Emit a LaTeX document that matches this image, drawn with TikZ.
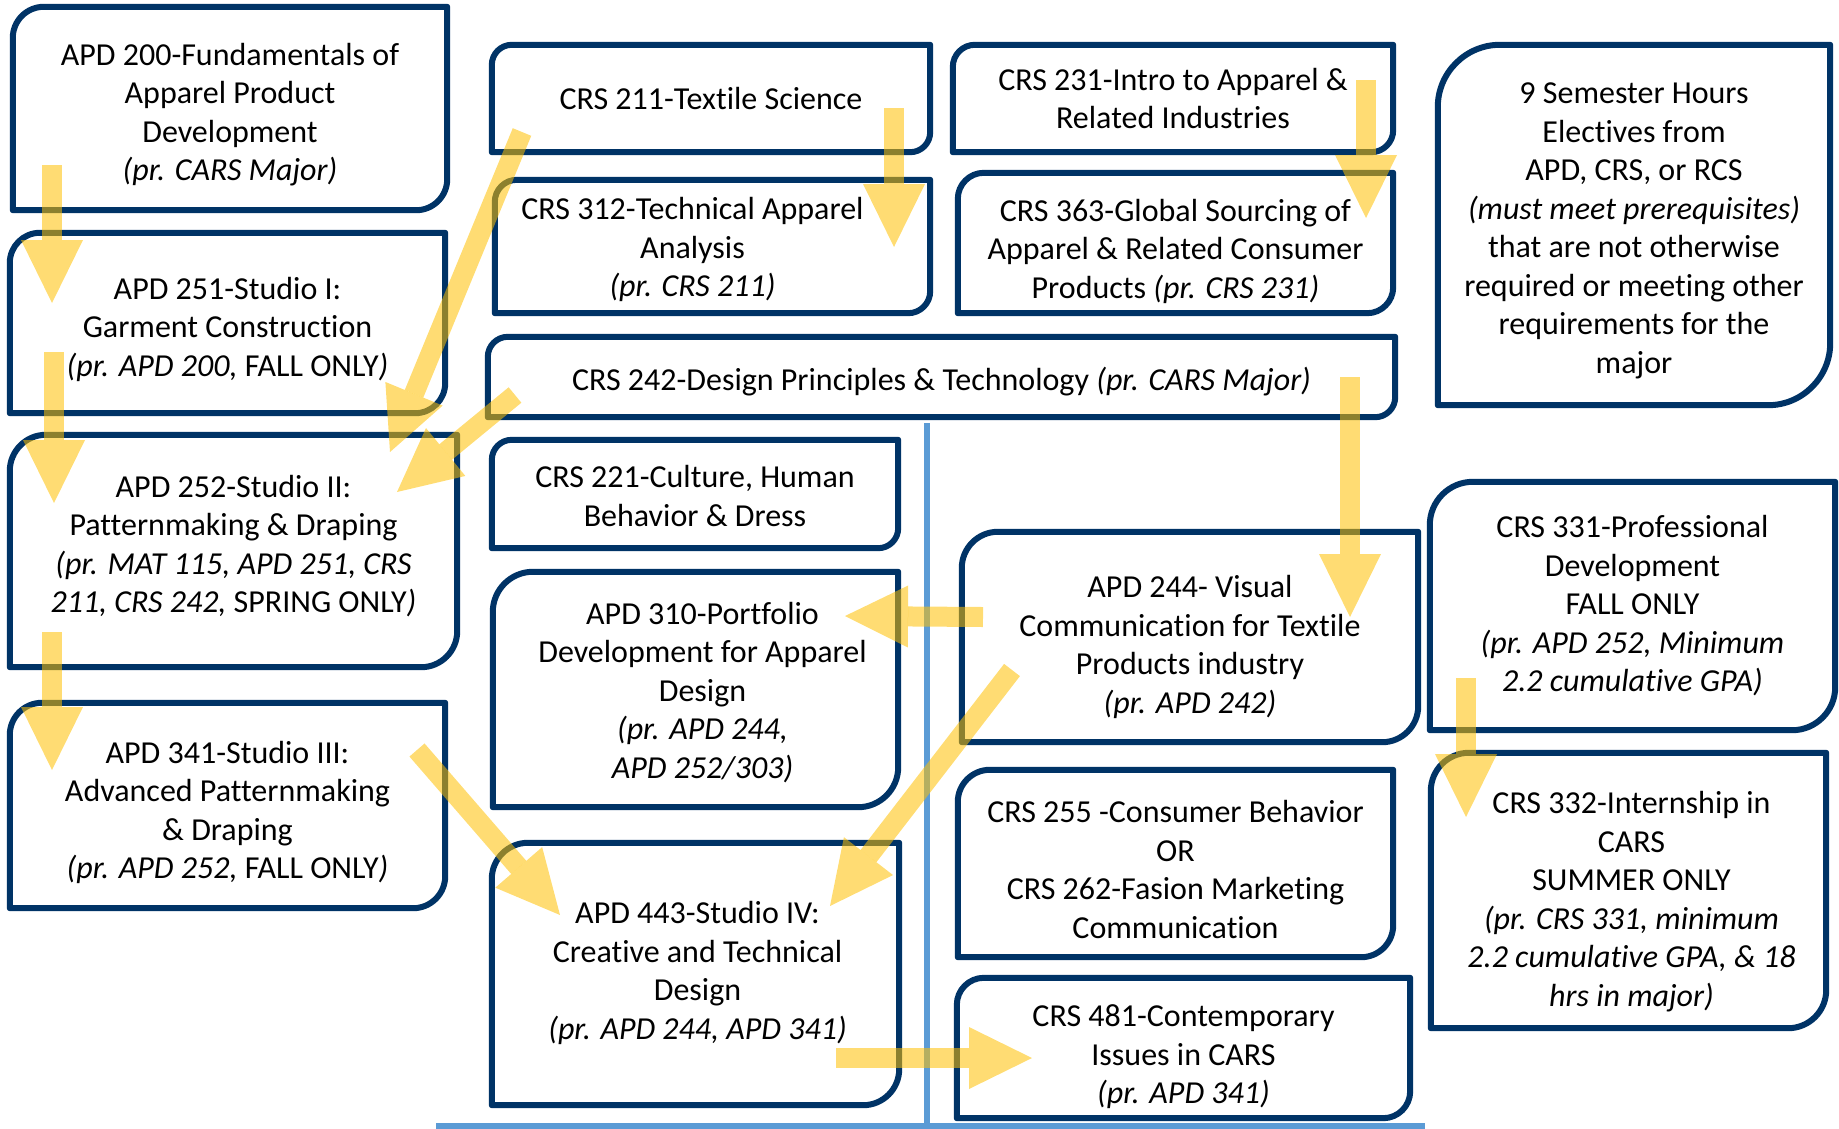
\documentclass[tikz,border=0pt]{standalone}
\usepackage{fontspec}
\setmainfont{Carlito}[Ligatures=NoCommon]
\usetikzlibrary{arrows.meta,calc}
\definecolor{boxblue}{RGB}{0,51,102}
\definecolor{flowgold}{RGB}{255,192,0}
\definecolor{splitblue}{RGB}{91,155,213}
\newcommand{\coursefont}{\fontsize{32}{38.5}\selectfont}
\tikzset{course/.style={align=center,inner sep=0pt,font=\coursefont},
  boxline/.style={draw=boxblue,line width=6pt,line join=round},
  flow/.style={draw=flowgold,opacity=0.55,line width=20pt,
    -{Triangle[width=62pt,length=63pt,line width=0pt]}},
  split/.style={draw=splitblue,line width=6pt}}
% frame with rounded top-left and bottom-right corners,
% #2 = radius, #3/#4 = offset of the frame against the text
\newcommand{\courseframe}[4]{%
  \coordinate (tl) at ($(#1.north west)+(#3,#4)$);
  \coordinate (br) at ($(#1.south east)+(#3,#4)$);
  \draw[boxline] ($(tl)+(#2,0pt)$) -- (tl -| br) -- ($(br)+(0pt,#2)$)
  .. controls ($(br)+(0pt,0.45*#2)$) and ($(br)+(-0.45*#2,0pt)$)
  .. ($(br)+(-#2,0pt)$) -- (br -| tl) -- ($(tl)+(0pt,-#2)$)
  .. controls ($(tl)+(0pt,-0.45*#2)$) and ($(tl)+(0.45*#2,0pt)$)
  .. ($(tl)+(#2,0pt)$) -- cycle;}

\begin{document}
\begin{tikzpicture}[x=1pt,y=-1pt]
  \useasboundingbox (0,0) rectangle (1839,1128);

  % divider lines
  \coordinate (splittop) at (927,423);
  \coordinate (splitbot) at (927,1126);
  \coordinate (baseleft) at (436,1126);
  \coordinate (baseright) at (1425,1126);
  \draw[split] (splittop) -- (splitbot);
  \draw[split] (baseleft) -- (baseright);

  % left column
  \node[course,minimum width=434pt,minimum height=203pt] (apd200) at (230,114.5)
  {APD 200-Fundamentals of\\Apparel Product\\Development\\\textit{(pr. CARS Major)}};
  \node[course,minimum width=435pt,minimum height=180pt] (apd251) at (227.5,329)
  {APD 251-Studio I:\\Garment Construction\\\textit{(pr. APD 200,} FALL ONLY\textit{)}};
  \node[course,minimum width=447pt,minimum height=232pt] (apd252) at (233.5,546)
  {APD 252-Studio II:\\Patternmaking \& Draping\\\textit{(pr. MAT 115, APD 251, CRS}\\
   \textit{211, CRS 242,} SPRING ONLY\textit{)}};
  \node[course,minimum width=435pt,minimum height=205pt] (apd341) at (227.5,812.5)
  {APD 341-Studio III:\\Advanced Patternmaking\\\& Draping\\\textit{(pr. APD 252,} FALL ONLY\textit{)}};

  % middle column
  \node[course,minimum width=438pt,minimum height=107pt] (crs211) at (711,98.5)
  {CRS 211-Textile Science};
  \node[course,minimum width=435pt,minimum height=133pt] (crs312) at (692.5,249.5)
  {CRS 312-Technical Apparel\\Analysis\\\textit{(pr. CRS 211)}};
  \node[course,minimum width=907pt,minimum height=80pt] (crs242) at (941.5,382)
  {CRS 242-Design Principles \& Technology \textit{(pr. CARS Major)}};
  \node[course,minimum width=406pt,minimum height=108pt] (crs221) at (695,496)
  {CRS 221-Culture, Human\\Behavior \& Dress};
  \node[course,minimum width=405pt,minimum height=235pt] (apd310) at (702.5,692.5)
  {APD 310-Portfolio\\Development for Apparel\\Design\\\textit{(pr. APD 244,}\\\textit{APD 252/303)}};
  \node[course,minimum width=407pt,minimum height=262pt] (apd443) at (697.5,973)
  {APD 443-Studio IV:\\Creative and Technical\\Design\\\textit{(pr. APD 244, APD 341)}};

  % right middle column
  \node[course,minimum width=440pt,minimum height=107pt] (crs231) at (1173,98.5)
  {CRS 231-Intro to Apparel \&\\Related Industries};
  \node[course,minimum width=435pt,minimum height=140pt] (crs363) at (1175.5,251)
  {CRS 363-Global Sourcing of\\Apparel \& Related Consumer\\Products \textit{(pr. CRS 231)}};
  \node[course,minimum width=456pt,minimum height=210pt] (apd244) at (1190,647)
  {APD 244- Visual\\Communication for Textile\\Products industry\\\textit{(pr. APD 242)}};
  \node[course,minimum width=435pt,minimum height=187pt] (crs255) at (1175.5,869.5)
  {CRS 255 -Consumer Behavior\\OR\\CRS 262-Fasion Marketing\\Communication};
  \node[course,minimum width=453pt,minimum height=140pt] (crs481) at (1183.5,1057)
  {CRS 481-Contemporary\\Issues in CARS\\\textit{(pr. APD 341)}};

  % right column
  \node[course,minimum width=392pt,minimum height=360pt] (elect) at (1634,231)
  {9 Semester Hours\\Electives from\\APD, CRS, or RCS\\\textit{(must meet prerequisites)}\\
   that are not otherwise\\required or meeting other\\requirements for the\\major};
  \node[course,minimum width=405pt,minimum height=248pt] (crs331) at (1632.5,606)
  {CRS 331-Professional\\Development\\FALL ONLY\\\textit{(pr. APD 252, Minimum}\\
   \textit{2.2 cumulative GPA)}};
  \node[course,minimum width=395pt,minimum height=275pt] (crs332) at (1631.5,901.5)
  {CRS 332-Internship in\\CARS\\SUMMER ONLY\\\textit{(pr. CRS 331, minimum}\\
   \textit{2.2 cumulative GPA, \& 18}\\\textit{hrs in major)}};

  \foreach \n/\r/\dx/\dy in {apd200/31pt/0pt/6pt,apd251/30pt/0pt/6pt,
    apd252/36pt/0pt/-5pt,apd341/32pt/0pt/7pt,crs211/20pt/0pt/0pt,
    crs312/22pt/20pt/3pt,crs242/20pt/0pt/5pt,crs221/20pt/0pt/2pt,
    apd310/40pt/-7pt/3pt,apd443/36pt/-2pt/-1pt,crs231/22pt/0pt/0pt,
    crs363/26pt/0pt/8pt,apd244/36pt/0pt/10pt,crs255/32pt/0pt/6pt,
    crs481/27pt/0pt/9pt,elect/62pt/0pt/6pt,crs331/43pt/0pt/0pt,
    crs332/38pt/-3pt/11pt}
    \courseframe{\n}{\r}{\dx}{\dy};

  % arrow ends
  \coordinate (o200) at (52,165);    \coordinate (i251) at (52,303);
  \coordinate (o251) at (54,352);    \coordinate (i252a) at (54,503);
  \coordinate (o252) at (52,632);    \coordinate (i341) at (52,770);
  \coordinate (o211a) at (522,132);  \coordinate (i252b) at (390,452);
  \coordinate (o242a) at (515,395);  \coordinate (i252c) at (397,492);
  \coordinate (o211b) at (894,108);  \coordinate (i312) at (894,247);
  \coordinate (o231) at (1366,80);   \coordinate (i363) at (1366,218);
  \coordinate (o242b) at (1350,377); \coordinate (i244) at (1350,617);
  \coordinate (o244a) at (983,617);  \coordinate (i310) at (845,616);
  \coordinate (o244b) at (1012,670); \coordinate (i443a) at (830,906);
  \coordinate (o341) at (417,750);   \coordinate (i443b) at (560,915);
  \coordinate (o443) at (836,1058);  \coordinate (i481) at (1032,1058);
  \coordinate (o331) at (1466,678);  \coordinate (i332) at (1466,817);

  \foreach \a/\b in {o200/i251,o251/i252a,o252/i341,o211a/i252b,o242a/i252c,
    o211b/i312,o231/i363,o242b/i244,o244a/i310,o244b/i443a,o341/i443b,
    o443/i481,o331/i332}
    \draw[flow] (\a) -- (\b);
\end{tikzpicture}
\end{document}
